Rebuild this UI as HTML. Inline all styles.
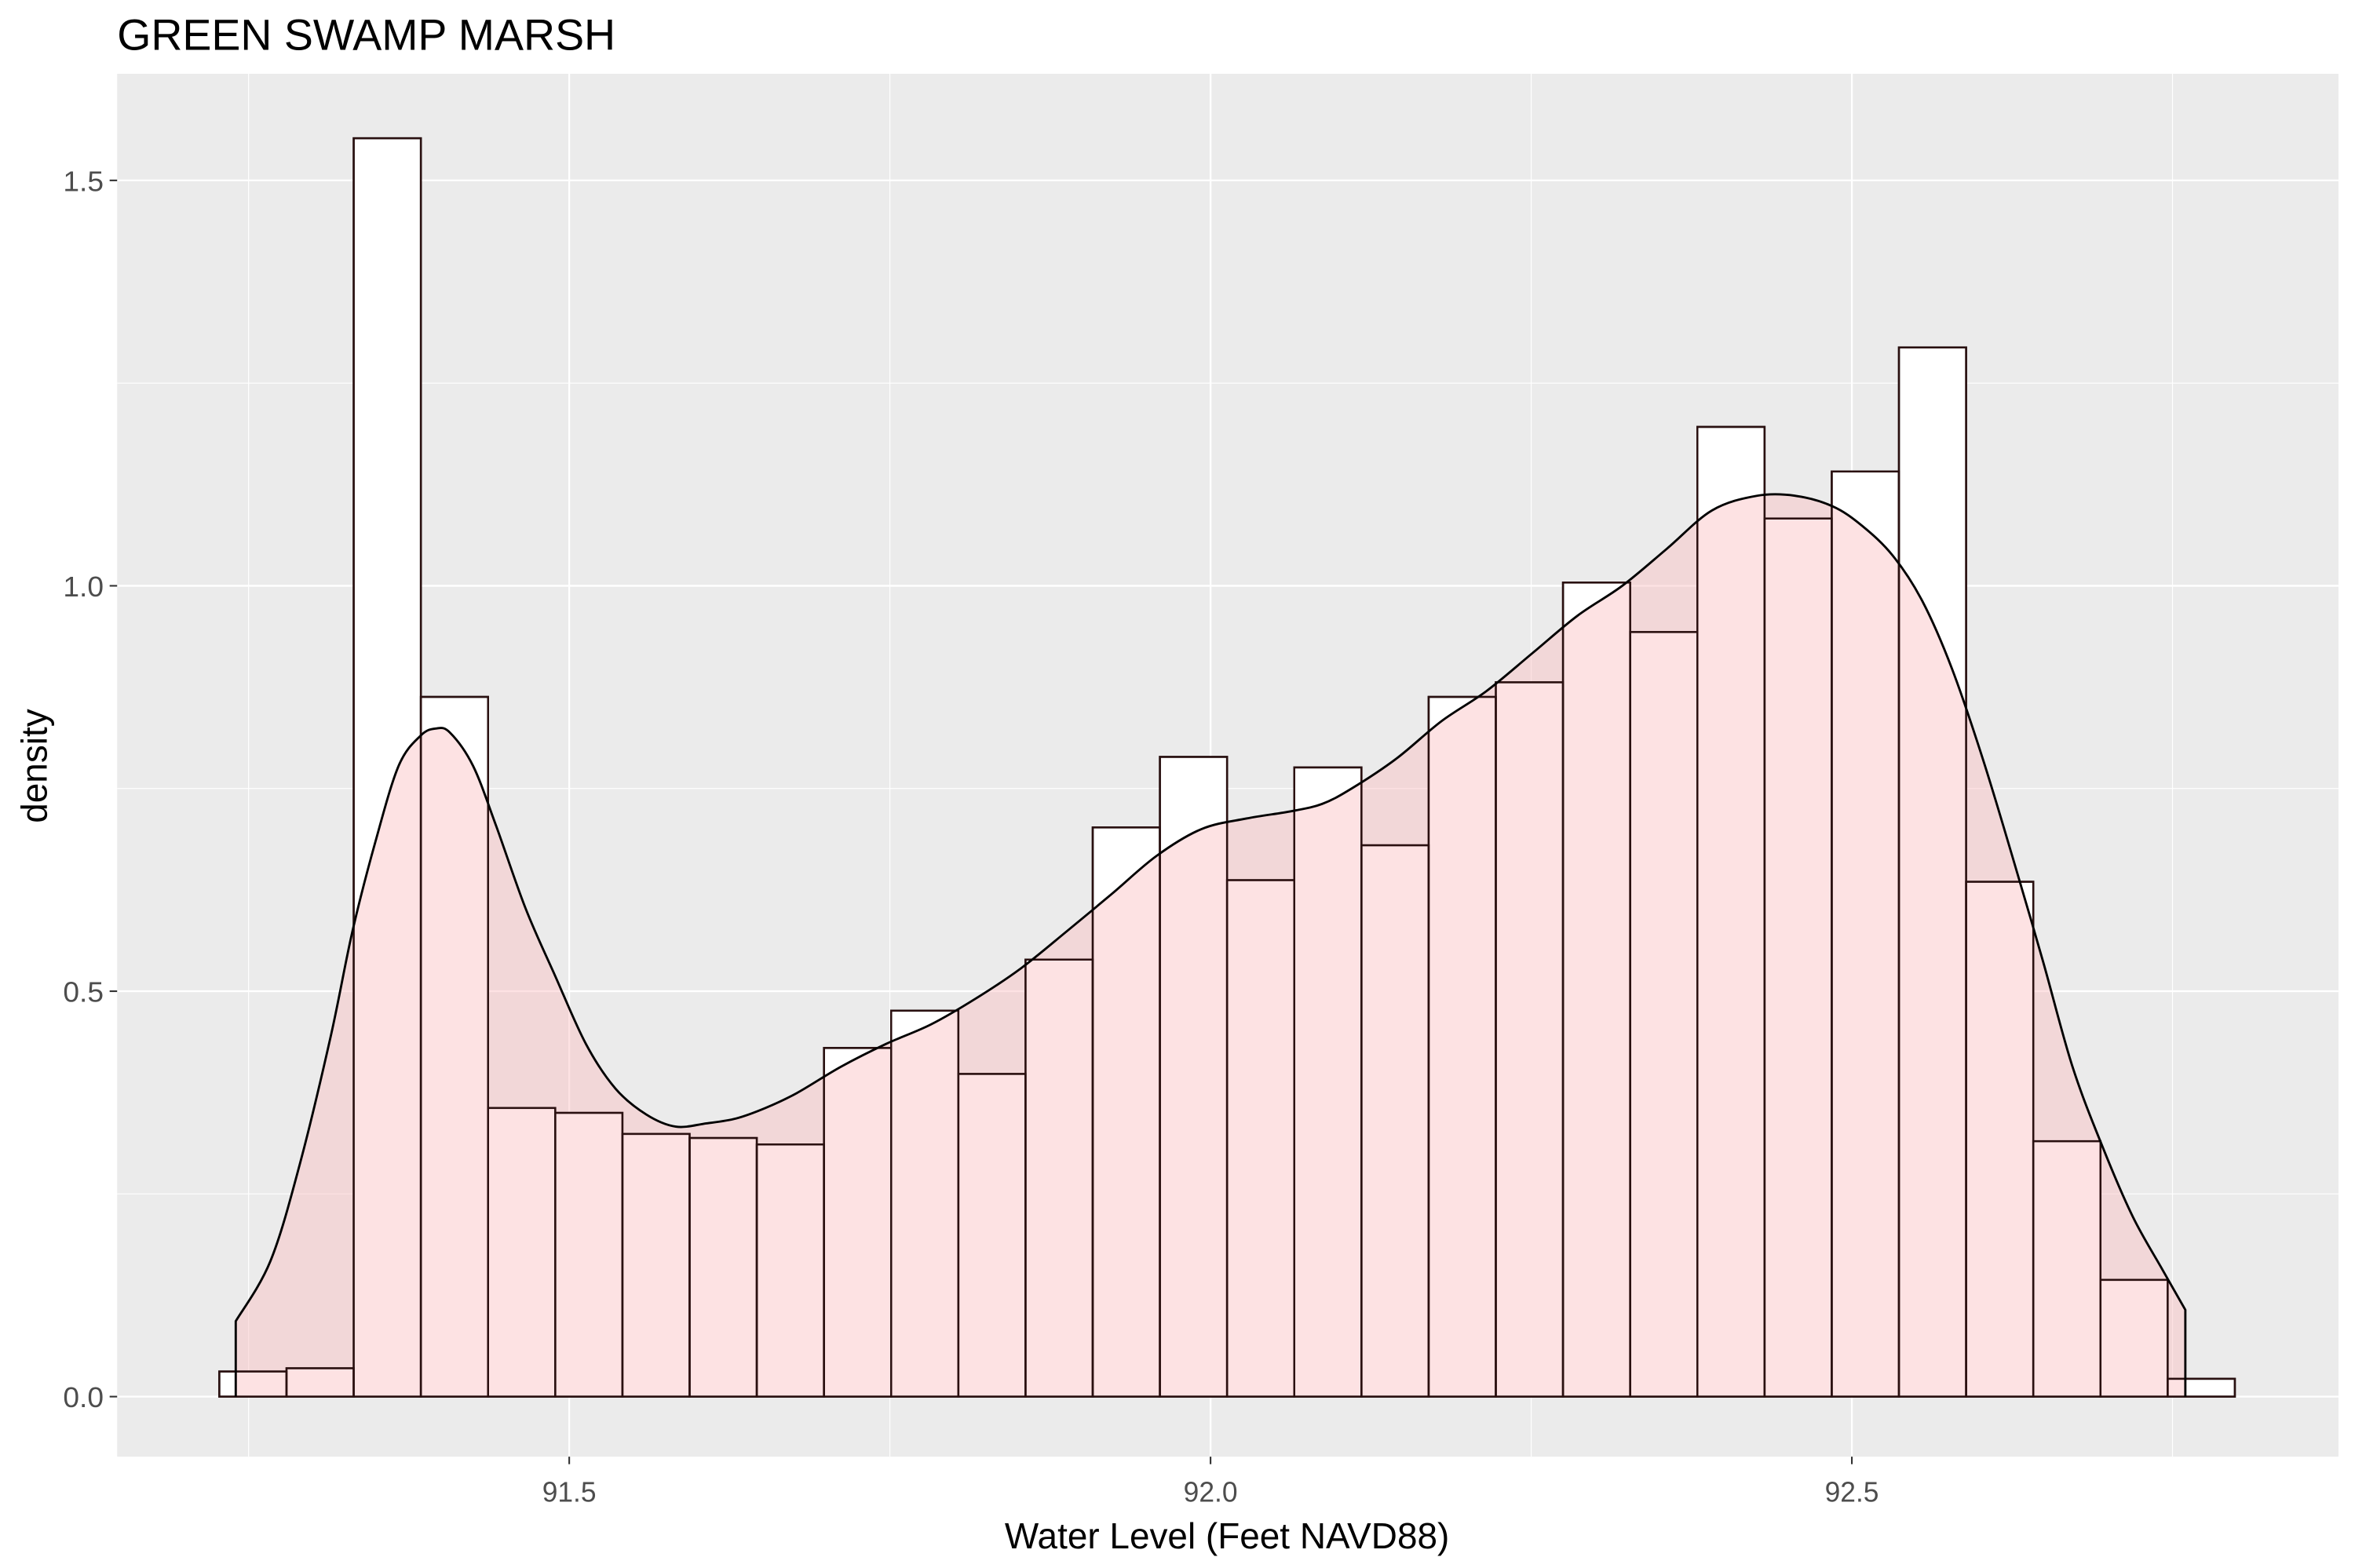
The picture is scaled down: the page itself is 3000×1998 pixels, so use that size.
<!DOCTYPE html>
<html><head><meta charset="utf-8"><style>html,body{margin:0;padding:0;background:#fff}svg{display:block}</style></head>
<body>
<svg id="chart" width="3000" height="1998" viewBox="0 0 1568 1044" xmlns="http://www.w3.org/2000/svg" font-family="Liberation Sans, sans-serif">
<rect x="0" y="0" width="1568" height="1044" fill="#fff"/>
<rect x="78" y="49" width="1479" height="921" fill="#EBEBEB"/>
<g id="grid"></g>
<g id="bars"></g>
<g id="dens"></g>
<g id="axes"></g>
<text x="78" y="33" font-size="29" fill="#000">GREEN SWAMP MARSH</text>
<text x="817" y="1031" font-size="24" text-anchor="middle" fill="#000">Water Level (Feet NAVD88)</text>
<text transform="translate(31,510) rotate(-90)" font-size="24" text-anchor="middle" fill="#000">density</text>
</svg>
<script>
const binStart = 91.2272;
const binWidth = 0.05238;
const binDensity = [0.031,0.035,1.552,0.863,0.356,0.35,0.324,0.319,0.311,0.43,0.476,0.398,0.539,0.702,0.789,0.637,0.776,0.680,0.863,0.881,1.004,0.943,1.196,1.083,1.141,1.294,0.635,0.315,0.144,0.022];
const densX = [91.240,91.267,91.290,91.314,91.331,91.349,91.367,91.384,91.396,91.407,91.425,91.443,91.466,91.489,91.513,91.536,91.560,91.583,91.607,91.630,91.653,91.677,91.712,91.747,91.782,91.817,91.852,91.888,91.923,91.958,91.993,92.028,92.063,92.087,92.110,92.145,92.180,92.215,92.251,92.286,92.321,92.356,92.391,92.426,92.456,92.485,92.508,92.532,92.555,92.578,92.602,92.625,92.649,92.672,92.696,92.719,92.742,92.760];
const densY = [0.093,0.167,0.287,0.444,0.574,0.685,0.778,0.815,0.824,0.819,0.778,0.704,0.602,0.519,0.435,0.380,0.348,0.333,0.337,0.343,0.356,0.374,0.407,0.435,0.459,0.491,0.528,0.574,0.620,0.667,0.700,0.713,0.722,0.731,0.750,0.787,0.833,0.870,0.917,0.963,1.000,1.046,1.093,1.111,1.111,1.098,1.074,1.037,0.981,0.898,0.787,0.667,0.537,0.407,0.306,0.222,0.157,0.107];
const xTicks = [91.5, 92.0, 92.5];
const xTickLabels = ["91.5","92.0","92.5"];
const xMinor = [91.25, 91.75, 92.25, 92.75];
const yTicks = [0, 0.5, 1.0, 1.5];
const yTickLabels = ["0.0","0.5","1.0","1.5"];
const yMinor = [0.25, 0.75, 1.25];

const NS = "http://www.w3.org/2000/svg";
const X = v => 379 + (v - 91.5) * 854;
const Y = v => 930 - v * 540;
function mk(tag, attrs, parent){const e=document.createElementNS(NS,tag);for(const k in attrs)e.setAttribute(k,attrs[k]);parent.appendChild(e);return e;}
const grid=document.getElementById('grid'), bars=document.getElementById('bars'), dens=document.getElementById('dens'), axes=document.getElementById('axes');
xMinor.forEach(v=>{const l=mk('line',{x1:X(v),x2:X(v),y1:49,y2:970,stroke:'#fff','stroke-width':0.6},grid);

});
yMinor.forEach(v=>{const l=mk('line',{x1:78,x2:1557,y1:Y(v),y2:Y(v),stroke:'#fff','stroke-width':0.6},grid);

});
xTicks.forEach((v,i)=>{const l=mk('line',{x1:X(v),x2:X(v),y1:49,y2:970,stroke:'#fff','stroke-width':1.2},grid);


const t=mk('line',{x1:X(v),x2:X(v),y1:970,y2:975,stroke:'#333','stroke-width':1.1},axes);


const tx=mk('text',{x:X(v),y:1000,'font-size':19,'text-anchor':'middle',fill:'#4D4D4D',textLength:36,lengthAdjust:'spacingAndGlyphs'},axes);tx.textContent=xTickLabels[i];

});
yTicks.forEach((v,i)=>{const l=mk('line',{x1:78,x2:1557,y1:Y(v),y2:Y(v),stroke:'#fff','stroke-width':1.2},grid);


const t=mk('line',{x1:73,x2:78,y1:Y(v),y2:Y(v),stroke:'#333','stroke-width':1.1},axes);


const tx=mk('text',{x:69,y:Y(v)+7,'font-size':19,'text-anchor':'end',fill:'#4D4D4D',textLength:27,lengthAdjust:'spacingAndGlyphs'},axes);tx.textContent=yTickLabels[i];

});
binDensity.forEach((d,i)=>{const x0=X(binStart+i*binWidth),x1=X(binStart+(i+1)*binWidth);
const r=mk('rect',{x:x0,y:Y(d),width:x1-x0,height:Y(0)-Y(d),fill:'#fff',stroke:'#000','stroke-width':1.3},bars);

});
// smooth path via Catmull-Rom
const pts = densX.map((v,i)=>[X(v),Y(densY[i])]);
let curve='M'+pts[0][0]+','+pts[0][1];
for(let i=0;i<pts.length-1;i++){
  const p0=pts[Math.max(0,i-1)],p1=pts[i],p2=pts[i+1],p3=pts[Math.min(pts.length-1,i+2)];
  const c1x=p1[0]+(p2[0]-p0[0])/6,c1y=p1[1]+(p2[1]-p0[1])/6;
  const c2x=p2[0]-(p3[0]-p1[0])/6,c2y=p2[1]-(p3[1]-p1[1])/6;
  curve+=' C'+c1x+','+c1y+' '+c2x+','+c2y+' '+p2[0]+','+p2[1];
}
const startX=X(densX[0]), endX=X(densX[densX.length-1]);
const full='M'+startX+','+Y(0)+' L'+curve.slice(1)+' L'+endX+','+Y(0);
const area=mk('path',{d:full+' Z',fill:'#FBBEC2','fill-opacity':0.45,stroke:'none'},dens);


binDensity.forEach((d,i)=>{const x0=X(binStart+i*binWidth),x1=X(binStart+(i+1)*binWidth);
const r=mk('rect',{x:x0,y:Y(d),width:x1-x0,height:Y(0)-Y(d),fill:'none',stroke:'#2a1010','stroke-width':1.3},dens);

});
const line=mk('path',{d:full,fill:'none',stroke:'#000','stroke-width':1.5,'stroke-linejoin':'round'},dens);


</script>
</body></html>
